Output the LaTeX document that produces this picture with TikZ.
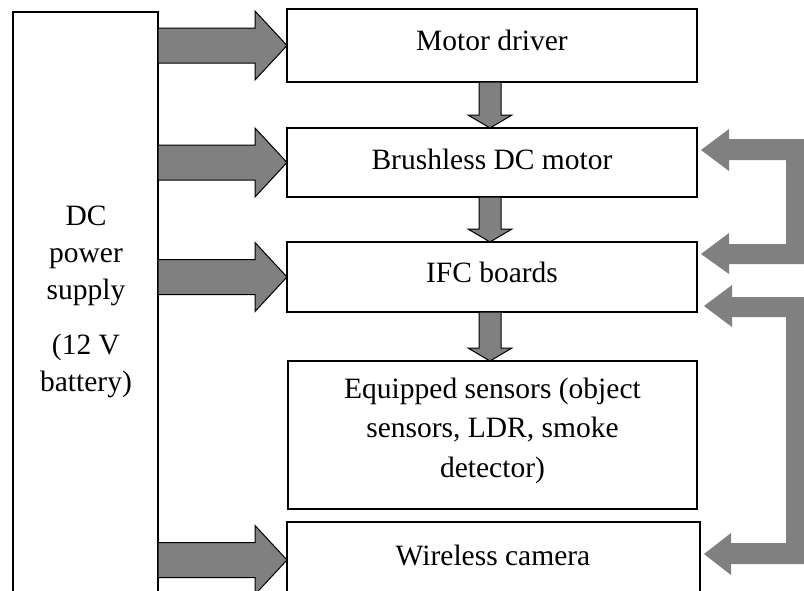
\documentclass[tikz,border=0pt]{standalone}
\usepackage{fontspec}
\setmainfont{Liberation Serif}
\usetikzlibrary{calc}
\tikzset{
  box/.style={draw=black, line width=1.5pt, fill=white, inner sep=0pt, outer sep=0pt},
  lbl/.style={font=\fontsize{29.5}{37}\selectfont, inner sep=0pt, outer sep=0pt, anchor=base, align=center},
  powarrow/.style={draw=black, line width=1pt, fill=gray, line join=miter},
  fbarrow/.style={fill=gray},
}
\newcommand{\rtarrow}[2]{%
  \draw[powarrow] let \p1=(#1), \p2=(#2) in
    (\x1,\y2+17.5pt) -- (\x2-32pt,\y2+17.5pt) -- (\x2-32pt,\y2+34.5pt) -- (\x2,\y2)
    -- (\x2-32pt,\y2-34.5pt) -- (\x2-32pt,\y2-17.5pt) -- (\x1,\y2-17.5pt) -- cycle;}
\newcommand{\dnarrow}[2]{%
  \draw[powarrow] let \p1=(#1), \p2=(#2) in
    (\x1-11pt,\y1) -- (\x1-11pt,\y2+13pt) -- (\x1-22pt,\y2+13pt) -- (\x1,\y2)
    -- (\x1+22pt,\y2+13pt) -- (\x1+11pt,\y2+13pt) -- (\x1+11pt,\y1) -- cycle;}
\begin{document}
\begin{tikzpicture}[x=1pt,y=-1pt]
\useasboundingbox (0,0) rectangle (804,590);
\clip (0,0) rectangle (804,590);
\fill[white] (0,0) rectangle (804,590);
% boxes
\node[box, minimum width=145, minimum height=648] (ps) at (85.5,336) {};
\node[box, minimum width=410, minimum height=73] (md) at (492,45.5) {};
\node[box, minimum width=410, minimum height=69] (bl) at (492,162.5) {};
\node[box, minimum width=410, minimum height=70] (ifc) at (492,277) {};
\node[box, minimum width=409, minimum height=148] (sen) at (492.5,435) {};
\node[box, minimum width=413, minimum height=76] (wc) at (493.5,560) {};
% labels (base anchor = baseline of the last line)
\node[lbl] (psl) at (86,391) {DC\\power\\supply\\[18pt](12 V\\battery)};
\node[lbl] (mdl) at (492,50) {Motor driver};
\node[lbl] (bll) at (492,169) {Brushless DC motor};
\node[lbl] (ifcl) at (492,282) {IFC boards};
\node[lbl, font=\fontsize{29.5}{39.5}\selectfont] (senl) at (492.5,477) {Equipped sensors (object\\sensors, LDR, smoke\\detector)};
\node[lbl] (wcl) at (493,565) {Wireless camera};
% power arrows
\rtarrow{ps.east}{md.west}
\rtarrow{ps.east}{bl.west}
\rtarrow{ps.east}{ifc.west}
\rtarrow{ps.east}{wc.west}
% downward arrows
\dnarrow{$(md.south)+(-2,0)$}{$(bl.north)+(-2,0)$}
\dnarrow{$(bl.south)+(-2,0)$}{$(ifc.north)+(-2,0)$}
\dnarrow{$(ifc.south)+(-2,0)$}{$(sen.north)+(-2,0)$}
% feedback brackets
\coordinate (fb1a) at ($(bl.east)+(4,-12.5)$);
\coordinate (fb1b) at ($(ifc.east)+(4,-23)$);
\coordinate (fb2a) at ($(ifc.east)+(7,29)$);
\coordinate (fb2b) at ($(wc.east)+(4,-6)$);
\fill[fbarrow] (fb1a) -- ++(28,-21) -- ++(0,10) -- (805,139) -- (805,264) -- (729,264) -- (729,274)
  -- (fb1b) -- ++(28,-21) -- ++(0,11) -- (786,244) -- (786,160) -- (729,160) -- (729,171) -- cycle;
\fill[fbarrow] (fb2a) -- ++(28,-21) -- ++(0,12) -- (805,297) -- (805,564) -- (731,564) -- (731,575)
  -- (fb2b) -- ++(27,-21) -- ++(0,10) -- (786,543) -- (786,317) -- (732,317) -- (732,327) -- cycle;
\end{tikzpicture}
\end{document}
